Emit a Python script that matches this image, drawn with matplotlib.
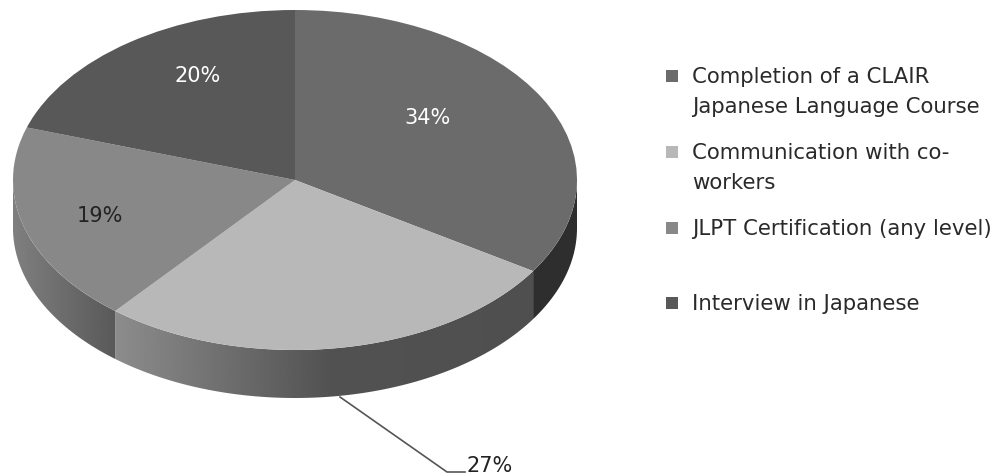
import numpy as np
import matplotlib
matplotlib.use("Agg")
import matplotlib.pyplot as plt
from matplotlib.patches import Polygon, Rectangle
from matplotlib.transforms import Affine2D

categories = ["Completion of a CLAIR\nJapanese Language Course",
              "Communication with co-\nworkers",
              "JLPT Certification (any level)",
              "Interview in Japanese"]
shares = [34, 27, 19, 20]
share_labels = ["34%", "27%", "19%", "20%"]

top_colors = ["#6b6b6b", "#b8b8b8", "#888888", "#585858"]
# grey ramp along each side wall: (position across the wall, grey level)
wall_ramps = [([0, 1], [0.18, 0.18]),
              ([0, 0.52, 1], [0.55, 0.32, 0.31]),
              ([0, 1], [0.50, 0.35]),
              ([0, 1], [0.3, 0.3])]

W, H = 999, 477
CX, CY = 295, 181      # pie centre, pixels
RX, RY = 282, 170      # ellipse radii, pixels
DEPTH = 48 / RY

plt.rcParams['font.family'] = ['DejaVu Sans']
fig = plt.figure(figsize=(W / 100, H / 100), dpi=100)
ax = fig.add_axes([0, 0, 1, 1])

wedges, _ = ax.pie(shares, colors=top_colors, startangle=90, counterclock=False)
for w in wedges:
    w.set_zorder(3)
    w.set_edgecolor("none")

# side walls, only the part of the rim facing the viewer
edges = np.cumsum([0] + shares) / sum(shares) * 360
for i in range(len(shares)):
    start = max(edges[i], 90)
    end = min(edges[i + 1], 270)
    if start >= end:
        continue
    t = np.radians(np.linspace(start, end, 120))
    x, y = np.sin(t), np.cos(t)
    outline = np.column_stack([np.r_[x, x[::-1]], np.r_[y, y[::-1] - DEPTH]])
    pos, grey = wall_ramps[i]
    # ramps run from the left end of the wall to the right end
    ramp = np.interp(np.linspace(0, 1, 256), pos, grey)
    im = ax.imshow(ramp[None, :], cmap="gray", vmin=0, vmax=1, aspect="auto",
                   extent=(x.min(), x.max(), y.min() - DEPTH - 0.01, y.max() + 0.01), zorder=2)
    clip = Polygon(outline, closed=True, transform=ax.transData, facecolor="none", edgecolor="none")
    ax.add_patch(clip)
    im.set_clip_path(clip)

ax.set_aspect("auto")
ax.set_xlim(-CX / RX, (W - CX) / RX)
ax.set_ylim(-(H - CY) / RY, CY / RY)
ax.axis("off")

# everything below is placed in pixels from the top left corner
px = Affine2D().scale(1, -1).translate(0, H)
label_pos = [(427, 118), (490, 466), (100, 216), (198, 76)]
label_colors = ["white", "#222222", "#222222", "white"]
for text, (lx, ly), c in zip(share_labels, label_pos, label_colors):
    ax.text(lx, ly, text, transform=px, color=c, fontsize=15, ha="center", va="center", zorder=5)

ax.plot([340, 447, 465], [398, 473, 473], transform=px, color="#555555", lw=1.2, zorder=1)

legend_y = [77, 153, 229, 304]
for name, c, ly in zip(categories, top_colors, legend_y):
    ax.add_patch(Rectangle((666, ly - 6), 12, 12, transform=px, facecolor=c, edgecolor="none", zorder=5))
    ax.text(692, ly - 10, name, transform=px, color="#2a2a2a", fontsize=15.3, ha="left", va="top",
            linespacing=1.62, zorder=5)

fig.savefig("out.png", dpi=100, facecolor="white")
